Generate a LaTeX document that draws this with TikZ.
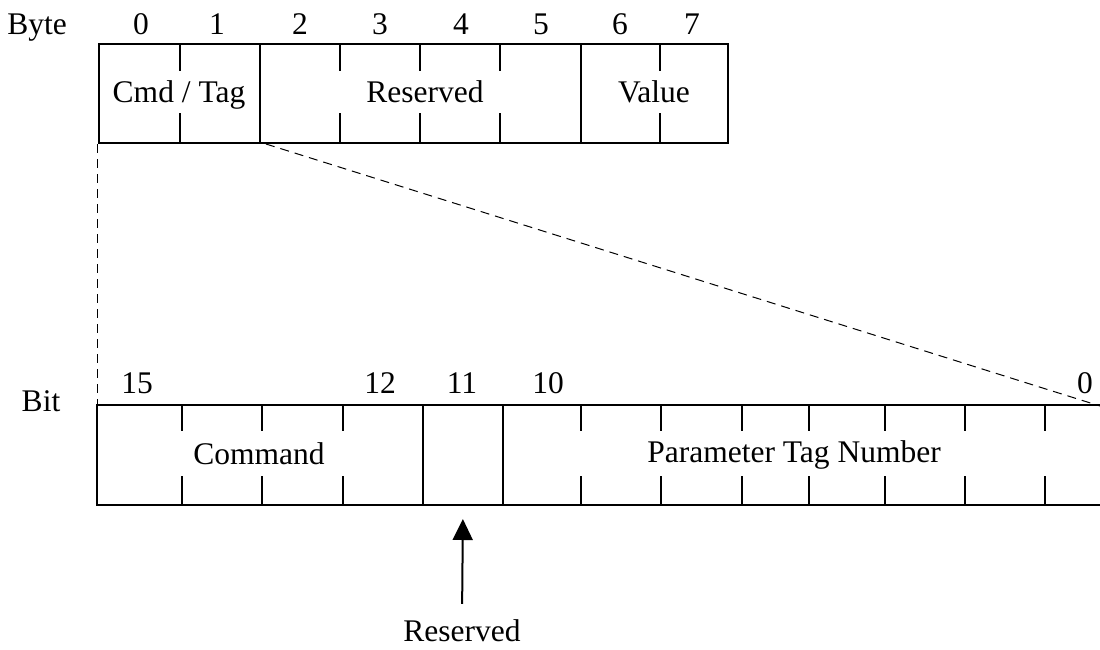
\documentclass[tikz,border=0pt]{standalone}
\usepackage{fontspec}
\setmainfont{Liberation Serif}
\usetikzlibrary{arrows.meta}
\begin{document}
\begin{tikzpicture}[x=1pt,y=-1pt,
  field/.style={draw,line width=2pt,rectangle,inner sep=0pt,anchor=north west},
  lbl/.style={inner sep=0pt,anchor=base,font=\fontsize{31.5}{36}\selectfont},
  fieldtick/.style={line width=2pt},
  zoomline/.style={line width=1pt,dash pattern=on 9pt off 6pt},
]
\useasboundingbox (0,0) rectangle (1100,649);
% ---- top (byte) register ----
\node[field,minimum width=161pt,minimum height=99pt] (cmd) at (98,43) {};
\node[field,minimum width=321pt,minimum height=99pt] (res) at (259,43) {};
\node[field,minimum width=147pt,minimum height=99pt] (val) at (580,43) {};
\node[lbl] (cmdtxt) at (179,102) {Cmd / Tag};
\node[lbl] (restxt) at (425,102) {Reserved};
\node[lbl] (valtxt) at (654,102) {Value};
\foreach \x in {180,340,420,500,660}{
  \draw[fieldtick] (\x,43) -- (\x,71);
  \draw[fieldtick] (\x,113) -- (\x,142);
}
\node[lbl] (byte) at (37,34) {Byte};
\foreach \i/\x in {0/141,1/217,2/300,3/380,4/461,5/541,6/620,7/692}{
  \node[lbl] (b\i) at (\x,34) {\i};
}
% ---- bottom (bit) register ----
\node[field,minimum width=326pt,minimum height=100pt] (command) at (96,404) {};
\node[field,minimum width=80pt,minimum height=100pt] (rsv) at (422,404) {};
\node[field,minimum width=604pt,minimum height=100pt] (ptn) at (502,404) {};
\node[lbl] (commandtxt) at (259,464) {Command};
\node[lbl] (ptntxt) at (794,462) {Parameter Tag Number};
\foreach \x in {182,262,343,581,661,742,809,885,965,1045}{
  \draw[fieldtick] (\x,404) -- (\x,431);
  \draw[fieldtick] (\x,476) -- (\x,504);
}
\node[lbl] (bit) at (41,411) {Bit};
\foreach \n/\x in {15/137,12/380,11/462,10/548,0/1085}{
  \node[lbl] (bit\n) at (\x,393) {\n};
}
% ---- zoom lines ----
\coordinate (zr) at (1100,406);
\draw[zoomline] ([xshift=-1pt]cmd.south west) -- ([xshift=1pt]command.north west);
\draw[zoomline] ([xshift=5pt]cmd.south east) -- (zr);
% ---- reserved arrow ----
\node[lbl] (rsvlbl) at (462,641) {Reserved};
\draw[line width=2pt,-{Triangle[length=21pt,width=20pt]},shorten <=15pt,shorten >=13pt] (rsvlbl.north) -- (rsv.south);
\end{tikzpicture}
\end{document}
